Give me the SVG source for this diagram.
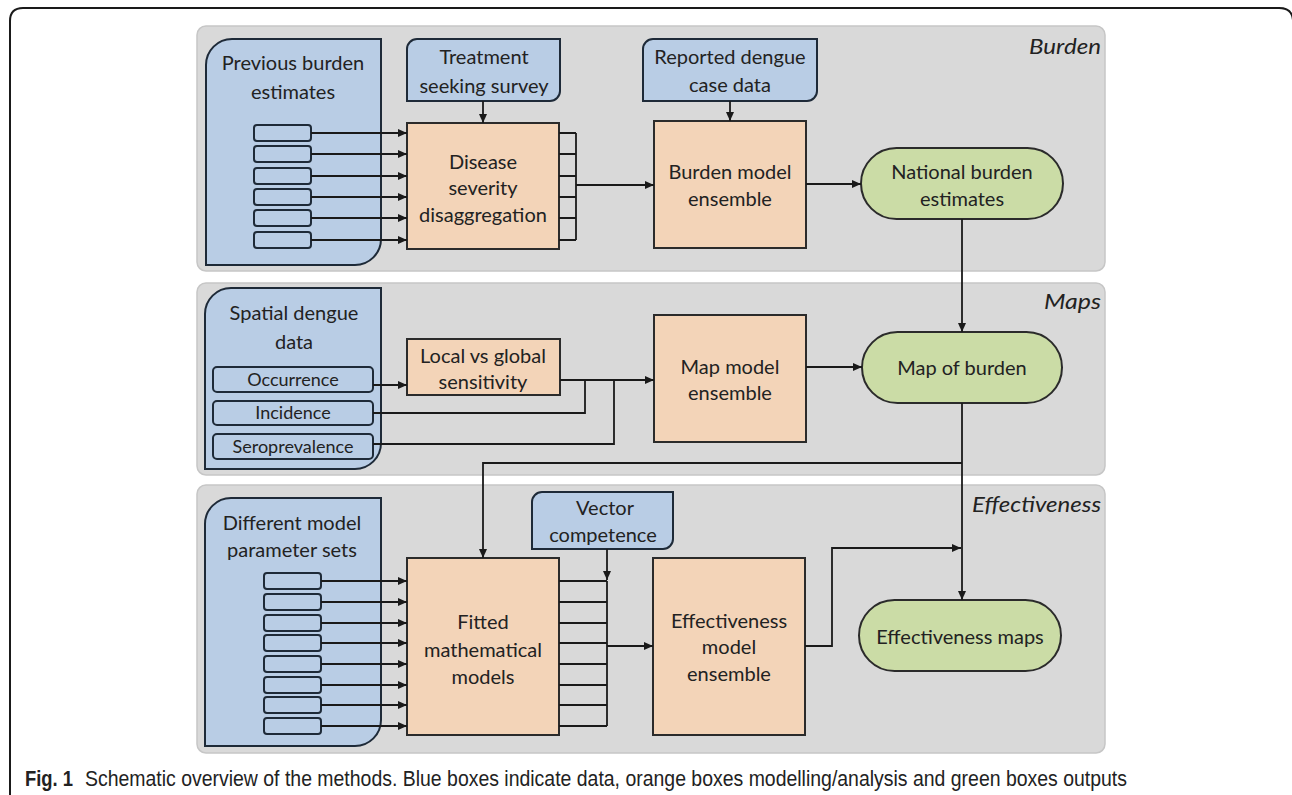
<svg xmlns="http://www.w3.org/2000/svg" width="1292" height="795" viewBox="0 0 1292 795">
<defs>
<style>
.panel{fill:#d9d9d9;stroke:#c6c6c6;stroke-width:1.5}
.blue{fill:#b9cde5;stroke:#1e2a38;stroke-width:2}
.orange{fill:#f3d4b8;stroke:#2b2b2b;stroke-width:2}
.green{fill:#cbdca6;stroke:#2b2b2b;stroke-width:2}
.t{font-family:Lato,"Liberation Sans",sans-serif;font-size:20px;fill:#222222;text-anchor:middle}
.ts{font-family:Lato,"Liberation Sans",sans-serif;font-size:18px;fill:#222222;text-anchor:middle}
.lbl{font-family:Lato,"Liberation Sans",sans-serif;font-size:22px;font-style:italic;fill:#222222;text-anchor:end}
.c{fill:none;stroke:#1a1a1a;stroke-width:1.8}
.a{marker-end:url(#arr)}
.cap{font-family:"Liberation Sans",sans-serif;font-size:22px;fill:#222222}
</style>
<marker id="arr" markerUnits="userSpaceOnUse" markerWidth="9" markerHeight="8" refX="9" refY="4" orient="auto">
<path d="M0,0 L9,4 L0,8 z" fill="#1a1a1a"/>
</marker>
</defs>
<rect width="1292" height="795" fill="#ffffff"/>
<path d="M10,796 V21 Q10,8 23,8 H1279 Q1292,8 1293,20 V796" fill="none" stroke="#1a1a1a" stroke-width="2"/>

<g id="panel-burden"><rect class="panel" x="197" y="26" width="908" height="245" rx="9"/><text class="lbl" x="1101" y="54" textLength="72" lengthAdjust="spacingAndGlyphs">Burden</text></g>
<g id="panel-maps"><rect class="panel" x="197" y="283" width="908" height="192" rx="9"/><text class="lbl" x="1101" y="309" textLength="57" lengthAdjust="spacingAndGlyphs">Maps</text></g>
<g id="panel-effectiveness"><rect class="panel" x="197" y="485" width="908" height="268" rx="9"/><text class="lbl" x="1101" y="512" textLength="129" lengthAdjust="spacingAndGlyphs">Effectiveness</text></g>

<g id="previous-burden">
<path class="blue" d="M206,265 V65 A26,26 0 0 1 232,39 H381 V239 A26,26 0 0 1 355,265 Z"/>
<text class="t" x="293" y="70">Previous burden</text>
<text class="t" x="293" y="99">estimates</text>
<rect class="blue" x="254" y="125" width="57" height="16" rx="3"/>
<rect class="blue" x="254" y="146" width="57" height="16" rx="3"/>
<rect class="blue" x="254" y="168" width="57" height="16" rx="3"/>
<rect class="blue" x="254" y="189" width="57" height="16" rx="3"/>
<rect class="blue" x="254" y="210" width="57" height="16" rx="3"/>
<rect class="blue" x="254" y="232" width="57" height="16" rx="3"/>
</g>
<g id="treatment-survey">
<path class="blue" d="M407,101 V49 A10,10 0 0 1 417,39 H560 V91 A10,10 0 0 1 550,101 Z"/>
<text class="t" x="484" y="64">Treatment</text>
<text class="t" x="484" y="93">seeking survey</text>
</g>
<g id="disease-severity">
<rect class="orange" x="407" y="123" width="152" height="126"/>
<text class="t" x="483" y="169">Disease</text>
<text class="t" x="483" y="195">severity</text>
<text class="t" x="483" y="222">disaggregation</text>
</g>
<g id="reported-cases">
<path class="blue" d="M643,101 V49 A10,10 0 0 1 653,39 H817 V91 A10,10 0 0 1 807,101 Z"/>
<text class="t" x="730" y="64">Reported dengue</text>
<text class="t" x="730" y="92">case data</text>
</g>
<g id="burden-model">
<rect class="orange" x="654" y="121" width="152" height="127"/>
<text class="t" x="730" y="179">Burden model</text>
<text class="t" x="730" y="206">ensemble</text>
</g>
<g id="national-burden">
<rect class="green" x="861" y="148" width="202" height="71" rx="35.5"/>
<text class="t" x="962" y="179">National burden</text>
<text class="t" x="962" y="206">estimates</text>
</g>

<g id="spatial-data">
<path class="blue" d="M205,469 V314 A26,26 0 0 1 231,288 H381 V443 A26,26 0 0 1 355,469 Z"/>
<text class="t" x="294" y="320">Spatial dengue</text>
<text class="t" x="294" y="349">data</text>
<rect class="blue" x="213" y="367" width="160" height="25" rx="4"/>
<text class="ts" x="293" y="386">Occurrence</text>
<rect class="blue" x="213" y="401" width="160" height="24" rx="4"/>
<text class="ts" x="293" y="419">Incidence</text>
<rect class="blue" x="213" y="434" width="160" height="25" rx="4"/>
<text class="ts" x="293" y="453">Seroprevalence</text>
</g>
<g id="local-global">
<rect class="orange" x="407" y="339" width="153" height="56"/>
<text class="t" x="483" y="363">Local vs global</text>
<text class="t" x="483" y="389">sensitivity</text>
</g>
<g id="map-model">
<rect class="orange" x="654" y="315" width="152" height="127"/>
<text class="t" x="730" y="374">Map model</text>
<text class="t" x="730" y="400">ensemble</text>
</g>
<g id="map-of-burden">
<rect class="green" x="862" y="332" width="200" height="71" rx="35.5"/>
<text class="t" x="962" y="375">Map of burden</text>
</g>

<g id="parameter-sets">
<path class="blue" d="M205,746 V524 A26,26 0 0 1 231,498 H381 V720 A26,26 0 0 1 355,746 Z"/>
<text class="t" x="292" y="530">Different model</text>
<text class="t" x="292" y="557">parameter sets</text>
<rect class="blue" x="264" y="573" width="57" height="16" rx="3"/>
<rect class="blue" x="264" y="594" width="57" height="16" rx="3"/>
<rect class="blue" x="264" y="615" width="57" height="16" rx="3"/>
<rect class="blue" x="264" y="635" width="57" height="16" rx="3"/>
<rect class="blue" x="264" y="656" width="57" height="16" rx="3"/>
<rect class="blue" x="264" y="677" width="57" height="16" rx="3"/>
<rect class="blue" x="264" y="697" width="57" height="16" rx="3"/>
<rect class="blue" x="264" y="718" width="57" height="16" rx="3"/>
</g>
<g id="vector-competence">
<path class="blue" d="M532,549 V502 A10,10 0 0 1 542,492 H673 V539 A10,10 0 0 1 663,549 Z"/>
<text class="t" x="605" y="515">Vector</text>
<text class="t" x="603" y="542">competence</text>
</g>
<g id="fitted-models">
<rect class="orange" x="407" y="558" width="152" height="177"/>
<text class="t" x="483" y="629">Fitted</text>
<text class="t" x="483" y="657">mathematical</text>
<text class="t" x="483" y="684">models</text>
</g>
<g id="effectiveness-model">
<rect class="orange" x="653" y="558" width="152" height="177"/>
<text class="t" x="729" y="628">Effectiveness</text>
<text class="t" x="729" y="654">model</text>
<text class="t" x="729" y="681">ensemble</text>
</g>
<g id="effectiveness-maps">
<rect class="green" x="859" y="600" width="202" height="71" rx="35.5"/>
<text class="t" x="960" y="644">Effectiveness maps</text>
</g>

<g id="connectors">
<path class="c a" d="M483,101 V123"/>
<path class="c a" d="M311,133 H407"/>
<path class="c a" d="M311,154 H407"/>
<path class="c a" d="M311,176 H407"/>
<path class="c a" d="M311,197 H407"/>
<path class="c a" d="M311,218 H407"/>
<path class="c a" d="M311,240 H407"/>
<path class="c" d="M559,133 H576 M559,154 H576 M559,176 H576 M559,197 H576 M559,218 H576 M559,240 H576 M576,133 V240"/>
<path class="c a" d="M576,185 H654"/>
<path class="c a" d="M730,101 V121"/>
<path class="c a" d="M806,184 H861"/>
<path class="c a" d="M962,219 V332"/>
<path class="c a" d="M373,385 H407"/>
<path class="c a" d="M560,380 H654"/>
<path class="c" d="M373,413 H585 V380"/>
<path class="c" d="M373,444 H614 V380"/>
<path class="c a" d="M806,367 H862"/>
<path class="c a" d="M962,403 V600"/>
<path class="c a" d="M962,463 H483 V558"/>
<path class="c a" d="M321,581 H407"/>
<path class="c a" d="M321,602 H407"/>
<path class="c a" d="M321,623 H407"/>
<path class="c a" d="M321,643 H407"/>
<path class="c a" d="M321,664 H407"/>
<path class="c a" d="M321,685 H407"/>
<path class="c a" d="M321,705 H407"/>
<path class="c a" d="M321,726 H407"/>
<path class="c" d="M559,581 H607 M559,602 H607 M559,623 H607 M559,643 H607 M559,664 H607 M559,685 H607 M559,705 H607 M559,726 H607 M607,581 V726"/>
<path class="c a" d="M607,549 V580"/>
<path class="c a" d="M607,646 H653"/>
<path class="c a" d="M805,646 H832 V548 H961"/>
</g>

<g id="caption">
<text class="cap" x="25" y="786" font-weight="bold" textLength="48" lengthAdjust="spacingAndGlyphs">Fig. 1</text>
<text class="cap" x="85" y="786" textLength="1042" lengthAdjust="spacingAndGlyphs">Schematic overview of the methods. Blue boxes indicate data, orange boxes modelling/analysis and green boxes outputs</text>
</g>
</svg>
